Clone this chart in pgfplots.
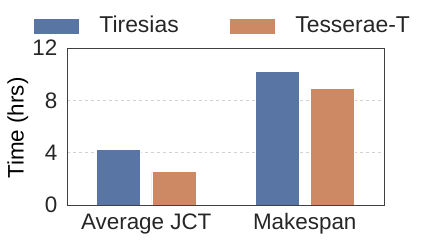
\documentclass[border=0pt]{standalone}
\usepackage{pgfplots}
\pgfplotsset{compat=1.18}
\usepackage{fontspec}
\setmainfont{Liberation Sans}
\definecolor{cblue}{HTML}{5975A4}
\definecolor{corange}{HTML}{CC8963}
\definecolor{axgray}{HTML}{404040}
\definecolor{txt}{HTML}{262626}
\begin{document}
\fontsize{22.5}{26}\selectfont
\begin{tikzpicture}
\begin{axis}[
  scale only axis,
  width=317bp, height=157bp,
  at={(0,0)}, anchor=south west,
  xmin=-0.5, xmax=1.5,
  ymin=0, ymax=12,
  ytick={0,4,8,12},
  xtick={0,1},
  xticklabels={Average JCT, Makespan},
  major tick length=0pt,
  tick label style={font=\fontsize{22.5}{26}\selectfont, text=txt},
  /pgf/number format/assume math mode=true,
  yticklabel style={xshift=-2bp},
  xticklabel style={yshift=-1bp},
  ylabel={Time (hrs)},
  ylabel style={font=\fontsize{25.5}{28}\selectfont, text=txt},
  every axis y label/.style={at={(axis description cs:-0.155,0.49)}, rotate=90, anchor=center},
  axis line style={axgray, line width=0.9bp},
  ymajorgrids,
  grid style={dashed, line width=0.5bp, color=black!18},
  ybar, bar width=44bp,
  legend columns=2,
  legend style={at={(0.49,1)}, anchor=south, yshift=8bp, draw=none, fill=none,
    font=\fontsize{23}{26}\selectfont, text=txt,
    /tikz/every even column/.append style={column sep=48bp}},
  legend image code/.code={\fill[#1] (0bp,-8bp) rectangle (46bp,8bp);},
  legend cell align=left,
]
\addplot[fill=cblue, draw=white, line width=0.6bp, bar shift=-27.7bp] coordinates {(0,4.26) (1,10.24)};
\addlegendentry{\hspace{18bp}Tiresias}
\addplot[fill=corange, draw=white, line width=0.6bp, bar shift=27.7bp] coordinates {(0,2.57) (1,8.92)};
\addlegendentry{\hspace{18bp}Tesserae-T}
\end{axis}
\path[use as bounding box] (-67bp,-35bp) rectangle (362bp,205bp);
\end{tikzpicture}
\end{document}
